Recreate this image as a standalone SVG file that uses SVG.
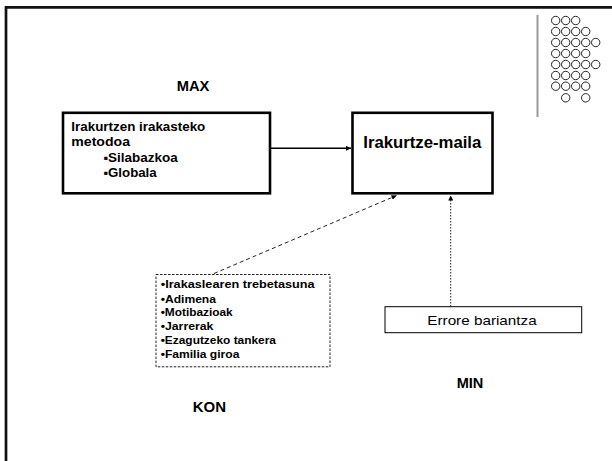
<svg xmlns="http://www.w3.org/2000/svg" width="612" height="461" viewBox="0 0 612 461">
<style>
.b{font-family:"Liberation Sans",Arial,"DejaVu Sans",sans-serif;font-weight:bold;fill:#000}
.r{font-family:"Liberation Sans",Arial,sans-serif;fill:#000}
.dot{fill:none;stroke:#222;stroke-width:1}
.box{fill:#fff;stroke:#000;stroke-width:2.6}
</style>
<defs>
<marker id="ah" viewBox="0 0 10 10" refX="10" refY="5" markerWidth="5" markerHeight="5" orient="auto" markerUnits="userSpaceOnUse">
<path d="M0,0 L10,5 L0,10 z" fill="#000"/>
</marker>
</defs>
<rect width="612" height="461" fill="#fff"/>
<path d="M6,461 V7.3 H612" fill="none" stroke="#111" stroke-width="2.7"/>
<g id="decoration">
<line x1="537.5" y1="15" x2="537.5" y2="117" stroke="#999" stroke-width="2"/>
<g class="dot">
<circle cx="555.7" cy="20.5" r="4.2"/><circle cx="565.7" cy="20.5" r="4.2"/><circle cx="575.7" cy="20.5" r="4.2"/>
<circle cx="555.7" cy="31.5" r="4.2"/><circle cx="565.7" cy="31.5" r="4.2"/><circle cx="575.7" cy="31.5" r="4.2"/><circle cx="585.7" cy="31.5" r="4.2"/>
<circle cx="555.7" cy="42.5" r="4.2"/><circle cx="565.7" cy="42.5" r="4.2"/><circle cx="575.7" cy="42.5" r="4.2"/><circle cx="585.7" cy="42.5" r="4.2"/><circle cx="595.7" cy="42.5" r="4.2"/>
<circle cx="555.7" cy="53.5" r="4.2"/><circle cx="565.7" cy="53.5" r="4.2"/><circle cx="575.7" cy="53.5" r="4.2"/><circle cx="585.7" cy="53.5" r="4.2"/>
<circle cx="555.7" cy="64.5" r="4.2"/><circle cx="565.7" cy="64.5" r="4.2"/><circle cx="575.7" cy="64.5" r="4.2"/><circle cx="585.7" cy="64.5" r="4.2"/><circle cx="595.7" cy="64.5" r="4.2"/>
<circle cx="555.7" cy="75.5" r="4.2"/><circle cx="565.7" cy="75.5" r="4.2"/><circle cx="575.7" cy="75.5" r="4.2"/><circle cx="585.7" cy="75.5" r="4.2"/>
<circle cx="555.7" cy="86.2" r="4.2"/><circle cx="565.7" cy="86.2" r="4.2"/><circle cx="575.7" cy="86.2" r="4.2"/><circle cx="585.7" cy="86.2" r="4.2"/>
<circle cx="565.7" cy="97.8" r="4.2"/><circle cx="585.7" cy="97.8" r="4.2"/>
</g>
</g>
<g id="labels">
<text class="b" x="176.7" y="90.7" font-size="14" textLength="32.7" lengthAdjust="spacingAndGlyphs">MAX</text>
<text class="b" x="456.7" y="388.3" font-size="14" textLength="26.7" lengthAdjust="spacingAndGlyphs">MIN</text>
<text class="b" x="192.7" y="412.3" font-size="14" textLength="33.3" lengthAdjust="spacingAndGlyphs">KON</text>
</g>
<g id="connectors">
<line x1="270" y1="148.3" x2="351" y2="148.3" stroke="#000" stroke-width="1.5" marker-end="url(#ah)"/>
<line x1="214" y1="273.5" x2="396.5" y2="195.5" stroke="#222" stroke-width="1" stroke-dasharray="4,3" marker-end="url(#ah)"/>
<line x1="450.7" y1="306.5" x2="450.7" y2="195.5" stroke="#222" stroke-width="1" stroke-dasharray="1.5,1.5" marker-end="url(#ah)"/>
</g>
<g id="metodoa">
<rect class="box" x="63" y="112.8" width="207" height="80.5"/>
<text class="b" x="71.3" y="131" font-size="12.5" textLength="134" lengthAdjust="spacingAndGlyphs">Irakurtzen irakasteko</text>
<text class="b" x="71.3" y="146" font-size="12.5" textLength="58.7" lengthAdjust="spacingAndGlyphs">metodoa</text>
<text class="b" x="103.3" y="161.7" font-size="12.5" textLength="74.4" lengthAdjust="spacingAndGlyphs">▪Silabazkoa</text>
<text class="b" x="103.3" y="177.3" font-size="12.5" textLength="53.4" lengthAdjust="spacingAndGlyphs">▪Globala</text>
</g>
<g id="irakurtze-maila">
<rect class="box" x="352.5" y="112.8" width="140" height="80.5"/>
<text class="b" x="363.3" y="148.3" font-size="16" textLength="118" lengthAdjust="spacingAndGlyphs">Irakurtze-maila</text>
</g>
<g id="faktoreak">
<rect x="156" y="274.5" width="174" height="92.3" fill="#fff" stroke="#222" stroke-width="1" stroke-dasharray="2.5,1.5"/>
<text class="b" x="160.7" y="288.3" font-size="11" textLength="154" lengthAdjust="spacingAndGlyphs">•Irakaslearen trebetasuna</text>
<text class="b" x="160.7" y="302.7" font-size="11" textLength="55.3" lengthAdjust="spacingAndGlyphs">•Adimena</text>
<text class="b" x="160.7" y="316.3" font-size="11" textLength="72" lengthAdjust="spacingAndGlyphs">•Motibazioak</text>
<text class="b" x="160.7" y="330.2" font-size="11" textLength="52.7" lengthAdjust="spacingAndGlyphs">•Jarrerak</text>
<text class="b" x="160.7" y="344.3" font-size="11" textLength="115.3" lengthAdjust="spacingAndGlyphs">•Ezagutzeko tankera</text>
<text class="b" x="160.7" y="358.3" font-size="11" textLength="78.7" lengthAdjust="spacingAndGlyphs">•Familia giroa</text>
</g>
<g id="errore">
<rect x="385" y="306.7" width="196.7" height="26" fill="#fff" stroke="#000" stroke-width="1"/>
<text class="r" x="427.3" y="325" font-size="13" textLength="109.4" lengthAdjust="spacingAndGlyphs">Errore bariantza</text>
</g>
</svg>
